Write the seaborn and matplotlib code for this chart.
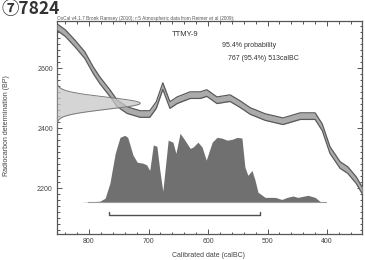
import numpy as np
import pandas as pd
import matplotlib
matplotlib.use("Agg")
import matplotlib.pyplot as plt
import seaborn as sns
from matplotlib.ticker import MultipleLocator

# ---- data ----
cal_years = [854, 840, 824, 807, 793, 782, 773, 765, 753, 736, 714, 698, 687,
             676, 664, 652, 630, 613, 602, 585, 563, 546, 529, 504, 474, 445,
             420, 408, 395, 378, 365, 351, 341]
cal_bp = [2737, 2717, 2683, 2643, 2593, 2560, 2537, 2517, 2483, 2460, 2447,
          2447, 2477, 2540, 2477, 2493, 2510, 2510, 2517, 2493, 2500, 2480,
          2457, 2437, 2423, 2440, 2440, 2403, 2327, 2277, 2260, 2227, 2193]
cal_error = 11

c14_mean = 2483
c14_sigma = 20

post_years = [812, 782, 773, 765, 756, 748, 740, 735, 726, 719, 709, 703, 698,
              692, 686, 681, 676, 667, 659, 654, 647, 639, 630, 625, 617, 610,
              603, 593, 585, 577, 568, 560, 551, 543, 538, 533, 526, 521, 516,
              504, 487, 476, 467, 457, 449, 432, 420, 412, 407, 387]
post_prob = [0.0, 0.014, 0.058, 0.275, 0.71, 0.94, 0.97, 0.94, 0.68, 0.58,
             0.565, 0.54, 0.46, 0.83, 0.81, 0.46, 0.16, 0.90, 0.87, 0.71, 1.0,
             0.90, 0.78, 0.80, 0.87, 0.80, 0.61, 0.87, 0.94, 0.93, 0.90, 0.91,
             0.94, 0.93, 0.51, 0.39, 0.46, 0.32, 0.145, 0.07, 0.07, 0.04, 0.07,
             0.09, 0.07, 0.10, 0.07, 0.014, 0.0, 0.0]

range_from, range_to = 767, 513

x_ticks = [800, 700, 600, 500, 400]
y_ticks = [2200, 2400, 2600]

title = "⑦7824"
sample = "TTMY-9"
prob_text = "95.4% probability"
range_text = "767 (95.4%) 513calBC"
header = "OxCal v4.1.7 Bronk Ramsey (2010); r:5 Atmospheric data from Reimer et al (2009);"
xlabel = "Calibrated date (calBC)"
ylabel = "Radiocarbon determination (BP)"

# ---- figure ----
sns.set_theme(style="ticks")
plt.rcParams["font.family"] = ["Liberation Sans", "DejaVu Sans"]

fig = plt.figure(figsize=(3.65, 2.6), dpi=100)
fig.patch.set_facecolor("white")
ax = fig.add_axes([0.156, 0.10, 0.836, 0.819])
ax.set_facecolor("white")

xl, xr = 854, 341
ax.set_xlim(xl, xr)
ax.set_ylim(2047, 2757)

dark = "#555555"

# posterior distribution
base, height = 2153, 230
py = [base + p * height for p in post_prob]
ax.fill_between(post_years, base, py, color="#707070", lw=0, zorder=2)
sns.lineplot(x=[post_years[0] - 10, post_years[-1] + 15], y=[base, base],
             ax=ax, color="#9a9a9a", lw=0.8, zorder=2)

# range bracket
by = 2110
sns.lineplot(x=[range_from, range_from, range_to, range_to],
             y=[by + 10, by, by, by + 10], ax=ax, sort=False, estimator=None,
             color="#505050", lw=1.0, zorder=3)

# calibration curve band
cy = np.array(cal_bp, dtype=float)
ax.fill_between(cal_years, cy - cal_error, cy + cal_error, color="#ababab",
                lw=0, zorder=3)
for off in (-cal_error, cal_error):
    sns.lineplot(x=cal_years, y=cy + off, ax=ax, sort=False, estimator=None,
                 color="#5a5a5a", lw=0.9, zorder=4)

# radiocarbon date (normal distribution on the y axis)
yy = np.linspace(c14_mean - 6 * c14_sigma, c14_mean + 6 * c14_sigma, 300)
g = np.exp(-0.5 * ((yy - c14_mean) / c14_sigma) ** 2)
gx = xl - 140 * g
ax.fill_betweenx(yy, xl, gx, color="#c8c8c8", alpha=0.75, lw=0, zorder=5)
sns.lineplot(x=gx, y=yy, ax=ax, sort=False, estimator=None,
             color="#7a7a7a", lw=0.7, zorder=5)

# axes styling
ax.set_xticks(x_ticks)
ax.set_yticks(y_ticks)
ax.xaxis.set_minor_locator(MultipleLocator(20))
ax.yaxis.set_minor_locator(MultipleLocator(20))
ax.tick_params(which="both", direction="in", top=True, right=True,
               colors=dark, labelsize=5, labelcolor="#444444", width=0.7)
ax.tick_params(which="major", length=3.5, pad=3)
ax.tick_params(which="minor", length=1.8)
for s in ax.spines.values():
    s.set_color(dark)
    s.set_linewidth(0.9)
ax.set_xlabel("")
ax.set_ylabel(ylabel, fontsize=5, color="#444444")
ax.yaxis.set_label_coords(-0.155, 0.51)

# texts
ax.text(0.0, 1.0, header, transform=ax.transAxes, fontsize=3.4,
        color="#555555", ha="left", va="bottom")
ax.text(0.42, 0.935, sample, transform=ax.transAxes, fontsize=5.5,
        color="#333333", ha="center", va="center")
ax.text(0.54, 0.885, prob_text, transform=ax.transAxes, fontsize=5,
        color="#333333", ha="left", va="center")
ax.text(0.56, 0.825, range_text, transform=ax.transAxes, fontsize=5,
        color="#333333", ha="left", va="center")
fig.text(0.57, 0.004, xlabel, fontsize=5, color="#444444", ha="center",
         va="bottom")
fig.text(0.005, 0.965, title, fontsize=12.5, fontweight="bold",
         color="#333333", ha="left", va="center",
         family=["Noto Sans CJK JP", "DejaVu Sans"])

fig.savefig("out.png", dpi=100, facecolor="white")
